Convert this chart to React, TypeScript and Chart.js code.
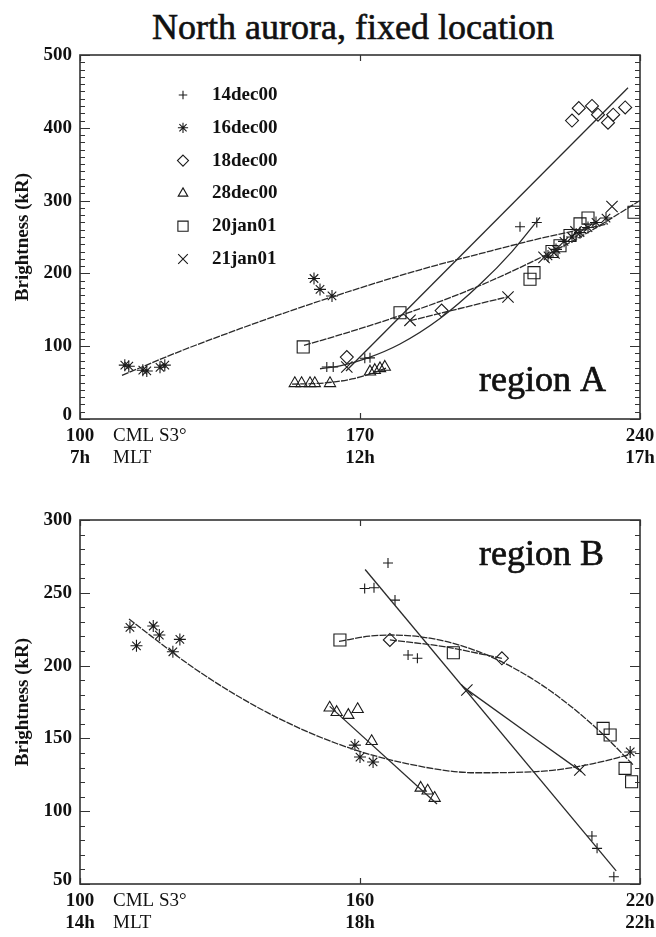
import React, { useEffect, useRef } from 'react';
import { Chart, registerables } from 'chart.js';

Chart.register(...registerables);

// ---------- shared ----------
const SERIES_NAMES = ['14dec00', '16dec00', '18dec00', '28dec00', '20jan01', '21jan01'];
const SERIES_STYLES = ['cross', 'star', 'rectRot', 'triangle', 'rect', 'crossRot'];
const SERIES_RADII = [5, 6, 6.5, 6.5, 8.5, 8];

// ---------- region A (top panel) ----------
const A_X_RANGE = [100, 240];
const A_Y_RANGE = [0, 500];
const A_Y_TICKS = [0, 100, 200, 300, 400, 500];
const A_X_TICKS = [100, 170, 240];
const A_X_TICKS_MLT = ['7h', '12h', '17h'];

const A_14dec00_X = [161.7, 163.3, 171.2, 172.5, 210, 214.2];
const A_14dec00_Y = [71.5, 71.5, 83.5, 84, 264, 270];
const A_16dec00_X = [111.2, 112.2, 115.7, 116.7, 120, 121.2, 158.5, 160, 163, 217, 219, 221, 223, 225, 227, 229, 231.5];
const A_16dec00_Y = [74, 72.5, 67, 66, 71, 74, 193, 178, 169, 224, 233, 244, 250, 256, 263, 270, 276];
const A_18dec00_X = [166.7, 190.4, 223, 224.7, 228, 229.5, 232, 233.3, 236.3];
const A_18dec00_Y = [85, 149, 410, 427, 430, 418, 407, 418, 428];
const A_28dec00_X = [153.7, 155.4, 157.5, 158.7, 162.5, 172.5, 173.7, 175, 176.2];
const A_28dec00_Y = [49, 49, 49, 49, 49, 65, 67, 69.5, 71.5];
const A_20jan01_X = [155.8, 180, 212.5, 213.5, 218, 220, 222.5, 225, 227, 238.5];
const A_20jan01_Y = [99, 146, 192, 201, 230, 238, 252, 268, 276, 284];
const A_21jan01_X = [166.7, 182.5, 207, 216, 218.5, 224, 233];
const A_21jan01_Y = [71.5, 135.5, 167.5, 222, 228, 257, 292];

// fitted curves, region A
const A_FIT_14dec00_X = [160, 165, 172, 180, 190, 200, 208, 215];
const A_FIT_14dec00_Y = [69, 73, 84, 103, 138, 185, 230, 277];
const A_FIT_16dec00_X = [110.5, 125, 140, 155, 170, 185, 200, 215, 232];
const A_FIT_16dec00_Y = [60, 93, 124, 153, 180, 205, 227, 248, 268];
const A_FIT_18dec00_X = [166.5, 237];
const A_FIT_18dec00_Y = [66, 455];
const A_FIT_28dec00_X = [153, 158, 163, 168, 172, 176.5];
const A_FIT_28dec00_Y = [48, 48.5, 50.5, 55, 61, 70];
const A_FIT_20jan01_X = [156, 170, 180, 195, 210, 225, 240];
const A_FIT_20jan01_Y = [101, 124, 142, 172, 208, 250, 300];
const A_FIT_21jan01_X = [182.5, 207];
const A_FIT_21jan01_Y = [135, 168];
const A_FIT_DASHED = [false, true, false, true, true, true];

// ---------- region B (bottom panel) ----------
const B_X_RANGE = [100, 220];
const B_Y_RANGE = [50, 300];
const B_Y_TICKS = [50, 100, 150, 200, 250, 300];
const B_X_TICKS = [100, 160, 220];
const B_X_TICKS_MLT = ['14h', '18h', '22h'];

const B_14dec00_X = [161, 163, 166, 167.5, 170.3, 172.3, 209.7, 210.8, 214.4];
const B_14dec00_Y = [253, 253.5, 270.5, 245, 207.3, 205, 83, 74.5, 55];
const B_16dec00_X = [110.7, 112.1, 115.7, 117, 119.9, 121.4, 158.9, 160, 162.8, 217.9];
const B_16dec00_Y = [226.3, 213.6, 227.2, 221, 209.5, 218, 145.4, 137.2, 133.8, 140.7];
const B_18dec00_X = [166.4, 190.4];
const B_18dec00_Y = [217.6, 205];
const B_28dec00_X = [153.5, 155, 157.5, 159.5, 162.5, 173, 174.5, 176];
const B_28dec00_Y = [171, 168, 166, 170, 148, 116, 114, 109];
const B_20jan01_X = [155.7, 180, 212.1, 213.6, 216.8, 218.2];
const B_20jan01_Y = [217.6, 208.8, 156.9, 152.3, 129.4, 120.2];
const B_21jan01_X = [182.9, 207.1];
const B_21jan01_Y = [183.2, 128.3];

// fitted curves, region B
const B_FIT_14dec00_X = [161.1, 214.9];
const B_FIT_14dec00_Y = [266, 59];
const B_FIT_16dec00_X = [110.5, 125, 140, 155, 170, 185, 200, 210, 218];
const B_FIT_16dec00_Y = [232, 197, 168, 146.5, 132.7, 126.4, 127.7, 132.7, 139.1];
const B_FIT_18dec00_X = [166.4, 178, 190.4];
const B_FIT_18dec00_Y = [217.6, 213, 205];
const B_FIT_28dec00_X = [153.5, 176.5];
const B_FIT_28dec00_Y = [172, 105];
const B_FIT_20jan01_X = [155.5, 162, 167, 175, 182, 190, 198, 205, 212, 218.5];
const B_FIT_20jan01_Y = [216.6, 220.2, 221, 218.8, 213.4, 203.2, 188.7, 172.5, 153, 131.9];
const B_FIT_21jan01_X = [182.1, 207.5];
const B_FIT_21jan01_Y = [185.4, 127];
const B_FIT_DASHED = [false, true, true, false, true, false];

const A_POINTS = [
  [A_14dec00_X, A_14dec00_Y], [A_16dec00_X, A_16dec00_Y], [A_18dec00_X, A_18dec00_Y],
  [A_28dec00_X, A_28dec00_Y], [A_20jan01_X, A_20jan01_Y], [A_21jan01_X, A_21jan01_Y],
];
const A_FITS = [
  [A_FIT_14dec00_X, A_FIT_14dec00_Y], [A_FIT_16dec00_X, A_FIT_16dec00_Y], [A_FIT_18dec00_X, A_FIT_18dec00_Y],
  [A_FIT_28dec00_X, A_FIT_28dec00_Y], [A_FIT_20jan01_X, A_FIT_20jan01_Y], [A_FIT_21jan01_X, A_FIT_21jan01_Y],
];
const B_POINTS = [
  [B_14dec00_X, B_14dec00_Y], [B_16dec00_X, B_16dec00_Y], [B_18dec00_X, B_18dec00_Y],
  [B_28dec00_X, B_28dec00_Y], [B_20jan01_X, B_20jan01_Y], [B_21jan01_X, B_21jan01_Y],
];
const B_FITS = [
  [B_FIT_14dec00_X, B_FIT_14dec00_Y], [B_FIT_16dec00_X, B_FIT_16dec00_Y], [B_FIT_18dec00_X, B_FIT_18dec00_Y],
  [B_FIT_28dec00_X, B_FIT_28dec00_Y], [B_FIT_20jan01_X, B_FIT_20jan01_Y], [B_FIT_21jan01_X, B_FIT_21jan01_Y],
];

const INK = '#1a1a1a';
const AXIS = '#333';
const SERIF = '"Liberation Serif", "DejaVu Serif", serif';

function drawMarker(ctx: CanvasRenderingContext2D, style: string, x: number, y: number, r: number) {
  ctx.beginPath();
  const d = Math.SQRT1_2 * r;
  switch (style) {
    case 'cross':
      ctx.moveTo(x - r, y); ctx.lineTo(x + r, y); ctx.moveTo(x, y - r); ctx.lineTo(x, y + r);
      break;
    case 'crossRot':
      ctx.moveTo(x - d, y - d); ctx.lineTo(x + d, y + d); ctx.moveTo(x - d, y + d); ctx.lineTo(x + d, y - d);
      break;
    case 'star':
      ctx.moveTo(x - r, y); ctx.lineTo(x + r, y); ctx.moveTo(x, y - r); ctx.lineTo(x, y + r);
      ctx.moveTo(x - d, y - d); ctx.lineTo(x + d, y + d); ctx.moveTo(x - d, y + d); ctx.lineTo(x + d, y - d);
      break;
    case 'rectRot':
      ctx.moveTo(x, y - r); ctx.lineTo(x + r, y); ctx.lineTo(x, y + r); ctx.lineTo(x - r, y); ctx.closePath();
      break;
    case 'rect':
      ctx.rect(x - d, y - d, 2 * d, 2 * d);
      break;
    case 'triangle':
      ctx.moveTo(x, y - r); ctx.lineTo(x + r * 0.866, y + r * 0.5); ctx.lineTo(x - r * 0.866, y + r * 0.5); ctx.closePath();
      break;
  }
  ctx.stroke();
}

const framePlugin = {
  id: 'frame',
  afterDatasetsDraw(chart: any, _args: any, opts: any) {
    const { ctx, chartArea: a, scales } = chart;
    const xs = scales.x;
    const ys = scales.y;
    ctx.save();
    // box
    ctx.strokeStyle = AXIS;
    ctx.lineWidth = 1.6;
    ctx.strokeRect(a.left, a.top, a.right - a.left, a.bottom - a.top);
    // y ticks (inward, both sides)
    ctx.lineWidth = 1.2;
    for (let v = opts.yMin; v <= opts.yMax + 1e-6; v += opts.yMinor) {
      const py = Math.round(ys.getPixelForValue(v)) + 0.5;
      const major = Math.abs(v % opts.yMajor) < 1e-6;
      const len = major ? 10 : 5;
      ctx.beginPath();
      ctx.moveTo(a.left, py); ctx.lineTo(a.left + len, py);
      ctx.moveTo(a.right, py); ctx.lineTo(a.right - len, py);
      ctx.stroke();
    }
    // x ticks (inward)
    opts.xTicks.forEach((v: number) => {
      const px = Math.round(xs.getPixelForValue(v)) + 0.5;
      ctx.beginPath();
      ctx.moveTo(px, a.bottom); ctx.lineTo(px, a.bottom - 6);
      ctx.moveTo(px, a.top); ctx.lineTo(px, a.top + 6);
      ctx.stroke();
    });
    // y tick labels
    ctx.fillStyle = '#111';
    ctx.font = 'bold 19px ' + SERIF;
    ctx.textAlign = 'right';
    ctx.textBaseline = 'middle';
    opts.yTicks.forEach((v: number, i: number) => {
      const py = ys.getPixelForValue(v) + (i === 0 ? -4 : 0);
      ctx.fillText(String(v), a.left - 8, py);
    });
    // x tick labels
    ctx.textAlign = 'center';
    opts.xTicks.forEach((v: number, i: number) => {
      const px = xs.getPixelForValue(v);
      ctx.font = 'bold 19px ' + SERIF;
      ctx.fillText(String(v), px, a.bottom + 17);
      ctx.fillText(opts.xTicks2[i], px, a.bottom + 39);
    });
    ctx.font = '19px ' + SERIF;
    ctx.textAlign = 'left';
    ctx.fillText('CML S3\u00b0', 113, a.bottom + 17);
    ctx.fillText('MLT', 113, a.bottom + 39);
    // y title
    ctx.save();
    ctx.translate(23, (a.top + a.bottom) / 2);
    ctx.rotate(-Math.PI / 2);
    ctx.textAlign = 'center';
    ctx.font = 'bold 19px ' + SERIF;
    ctx.fillText('Brightness (kR)', 0, 0);
    ctx.restore();
    // region label
    ctx.font = '36px ' + SERIF;
    ctx.textAlign = 'left';
    ctx.strokeStyle = '#111';
    ctx.lineWidth = 0.7;
    ctx.fillText(opts.region, 479, opts.regionY);
    ctx.strokeText(opts.region, 479, opts.regionY);
    // legend
    if (opts.legend) {
      ctx.font = 'bold 19px ' + SERIF;
      ctx.strokeStyle = INK;
      ctx.lineWidth = 1.1;
      SERIES_NAMES.forEach((name, i) => {
        const ly = 95 + i * 32.8;
        drawMarker(ctx, SERIES_STYLES[i], 183, ly, SERIES_RADII[i] * 0.85);
        ctx.fillText(name, 212, ly);
      });
    }
    ctx.restore();
  },
};

function buildDatasets(points: number[][][], fits: number[][][], dashed: boolean[]) {
  const ds: any[] = [];
  fits.forEach(([fx, fy], i) => {
    ds.push({
      type: 'line',
      label: SERIES_NAMES[i] + ' fit',
      data: fx.map((x, j) => ({ x, y: fy[j] })),
      showLine: true,
      borderColor: '#2a2a2a',
      borderWidth: 1.3,
      borderDash: dashed[i] ? [7, 1.2] : [],
      pointRadius: 0,
      fill: false,
      cubicInterpolationMode: 'monotone',
    });
  });
  points.forEach(([px, py], i) => {
    ds.push({
      type: 'scatter',
      label: SERIES_NAMES[i],
      data: px.map((x, j) => ({ x, y: py[j] })),
      pointStyle: SERIES_STYLES[i],
      pointRadius: SERIES_RADII[i],
      pointBorderColor: INK,
      pointBackgroundColor: 'rgba(0,0,0,0)',
      pointBorderWidth: 1.1,
      showLine: false,
    });
  });
  return ds;
}

function Panel(props: {
  width: number; height: number; padding: any; xr: number[]; yr: number[];
  points: number[][][]; fits: number[][][]; dashed: boolean[]; frame: any;
}) {
  const ref = useRef<HTMLCanvasElement | null>(null);
  useEffect(() => {
    if (!ref.current) return;
    const chart = new Chart(ref.current, {
      type: 'scatter',
      data: { datasets: buildDatasets(props.points, props.fits, props.dashed) },
      options: {
        animation: false,
        responsive: false,
        maintainAspectRatio: false,
        devicePixelRatio: 1,
        layout: { padding: props.padding },
        scales: {
          x: { type: 'linear', min: props.xr[0], max: props.xr[1], display: false },
          y: { type: 'linear', min: props.yr[0], max: props.yr[1], display: false },
        },
        plugins: {
          legend: { display: false },
          tooltip: { enabled: false },
          frame: props.frame,
        } as any,
      },
      plugins: [framePlugin],
    } as any);
    return () => chart.destroy();
  }, []);
  return <canvas ref={ref} width={props.width} height={props.height} style={{ display: 'block' }} />;
}

export default function App() {
  return (
    <div style={{ position: 'absolute', left: 0, top: 0, width: 656, height: 937, background: '#fff', overflow: 'hidden' }}>
      <div style={{
        position: 'absolute', left: 353, top: 7, transform: 'translateX(-50%)', whiteSpace: 'nowrap',
        fontFamily: SERIF, fontSize: 36, lineHeight: '40px', color: '#111',
        WebkitTextStroke: '0.6px #111',
      } as any}>North aurora, fixed location</div>
      <div style={{ position: 'absolute', left: 0, top: 0 }}>
        <Panel
          width={656} height={470}
          padding={{ left: 80, right: 16, top: 55, bottom: 51 }}
          xr={A_X_RANGE} yr={A_Y_RANGE}
          points={A_POINTS} fits={A_FITS} dashed={A_FIT_DASHED}
          frame={{
            yMin: 0, yMax: 500, yMinor: 10, yMajor: 100, yTicks: A_Y_TICKS,
            xTicks: A_X_TICKS, xTicks2: A_X_TICKS_MLT, region: 'region A', regionY: 382, legend: true,
          }}
        />
      </div>
      <div style={{ position: 'absolute', left: 0, top: 470 }}>
        <Panel
          width={656} height={467}
          padding={{ left: 80, right: 16, top: 50, bottom: 53 }}
          xr={B_X_RANGE} yr={B_Y_RANGE}
          points={B_POINTS} fits={B_FITS} dashed={B_FIT_DASHED}
          frame={{
            yMin: 50, yMax: 300, yMinor: 10, yMajor: 50, yTicks: B_Y_TICKS,
            xTicks: B_X_TICKS, xTicks2: B_X_TICKS_MLT, region: 'region B', regionY: 86, legend: false,
          }}
        />
      </div>
    </div>
  );
}
